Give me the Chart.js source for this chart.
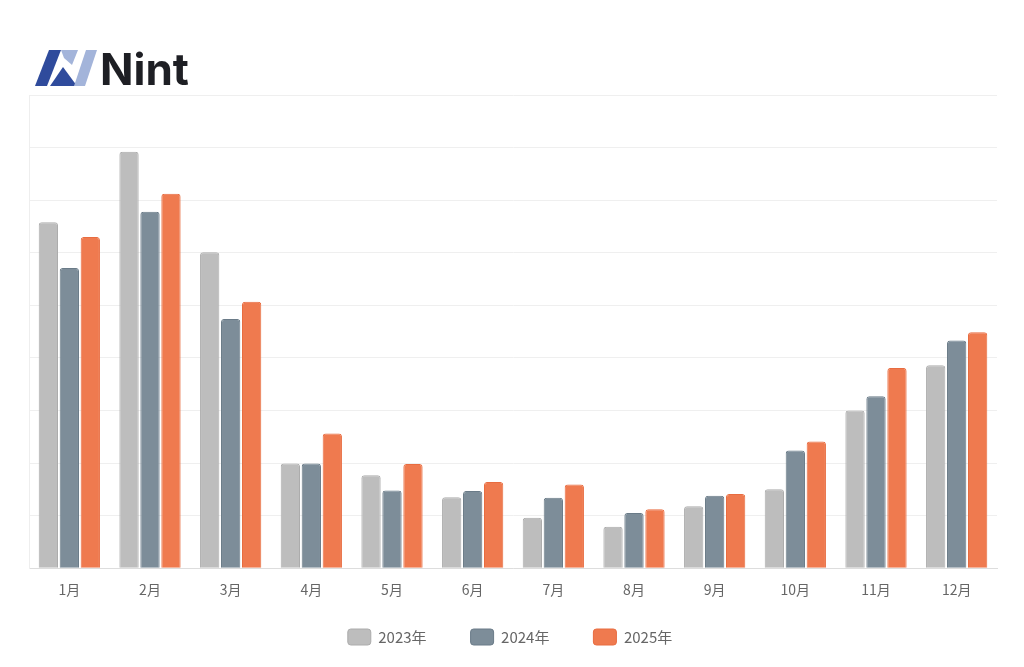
<!DOCTYPE html>
<html>
<head>
<meta charset="utf-8">
<script src="https://cdn.jsdelivr.net/npm/chart.js@4"></script>
<style>
  html, body { margin: 0; padding: 0; background: #fff; }
  #wrap { position: relative; width: 1024px; height: 667px; }
  #logo { position: absolute; left: 0; top: 0; width: 200px; height: 100px; }
  canvas { position: absolute; left: 0; top: 0; }
</style>
</head>
<body>
<div id="wrap">
  <canvas id="c" width="1024" height="667"></canvas>
  <svg id="logo" width="200" height="100" viewBox="0 0 200 100">
    <polygon points="35,86 49,50 61,50 47,86" fill="#2f4b9c"/>
    <polygon points="61,50 78,50 72,65 64,58" fill="#a3b4da"/>
    <polygon points="50,86 63,67 77,86" fill="#2f4b9c"/>
    <polygon points="74,86 86,50 97,50 85,86" fill="#a3b4da"/>
    <text x="100" y="85" font-family="Inter, 'Noto Sans', sans-serif" font-weight="700" font-size="44" fill="#1e1f24">Nint</text>
  </svg>
</div>
<script>
const categories = ["1月","2月","3月","4月","5月","6月","7月","8月","9月","10月","11月","12月"];
const seriesNames = ["2023年","2024年","2025年"];
const values2023 = [6.58, 7.92, 6.01, 1.99, 1.77, 1.35, 0.96, 0.79, 1.18, 1.50, 3.00, 3.86];
const values2024 = [5.71, 6.78, 4.74, 1.99, 1.48, 1.47, 1.34, 1.05, 1.38, 2.24, 3.27, 4.33];
const values2025 = [6.30, 7.12, 5.07, 2.56, 1.98, 1.64, 1.59, 1.12, 1.41, 2.41, 3.81, 4.49];
const yMax = 9;

const fontFamily = "'Noto Sans CJK SC', 'Noto Sans', sans-serif";

// move the legend up/left a few pixels after layout (spacing between items comes from padding)
const legendShift = {
  id: 'legendShift',
  afterLayout(chart) {
    const dy = 18, dx = 3;
    if (chart.legend) {
      chart.legend.top -= dy;
      chart.legend.bottom -= dy;
      chart.legend.left -= dx;
      chart.legend.right -= dx;
    }
  }
};

new Chart(document.getElementById('c'), {
  type: 'bar',
  data: {
    labels: categories,
    datasets: [
      { label: seriesNames[0], data: values2023, backgroundColor: '#bdbdbd', borderColor: '#acacac' },
      { label: seriesNames[1], data: values2024, backgroundColor: '#7d8d99', borderColor: '#6a7b88' },
      { label: seriesNames[2], data: values2025, backgroundColor: '#ef7a4f', borderColor: '#e86c40' }
    ]
  },
  plugins: [legendShift],
  options: {
    responsive: false,
    animation: false,
    layout: { padding: { top: 95, left: 29, right: 27, bottom: -6 } },
    datasets: {
      bar: {
        categoryPercentage: 0.78,
        barPercentage: 0.92,
        borderWidth: 1,
        borderRadius: 3,
        borderSkipped: 'bottom'
      }
    },
    scales: {
      x: {
        grid: { display: false },
        border: { color: '#dddddd', width: 1 },
        ticks: { color: '#666666', font: { family: fontFamily, size: 14 }, padding: 5 }
      },
      y: {
        min: 0, max: yMax,
        ticks: { display: false, stepSize: 1 },
        grid: { color: '#efefef', drawTicks: false },
        border: { color: '#eeeeee', width: 1 }
      }
    },
    plugins: {
      tooltip: { enabled: false },
      legend: {
        position: 'bottom',
        labels: {
          boxWidth: 23,
          boxHeight: 16,
          useBorderRadius: true,
          borderRadius: 3,
          padding: 44,
          color: '#666666',
          font: { family: fontFamily, size: 15 }
        }
      }
    }
  }
});
</script>
</body>
</html>
